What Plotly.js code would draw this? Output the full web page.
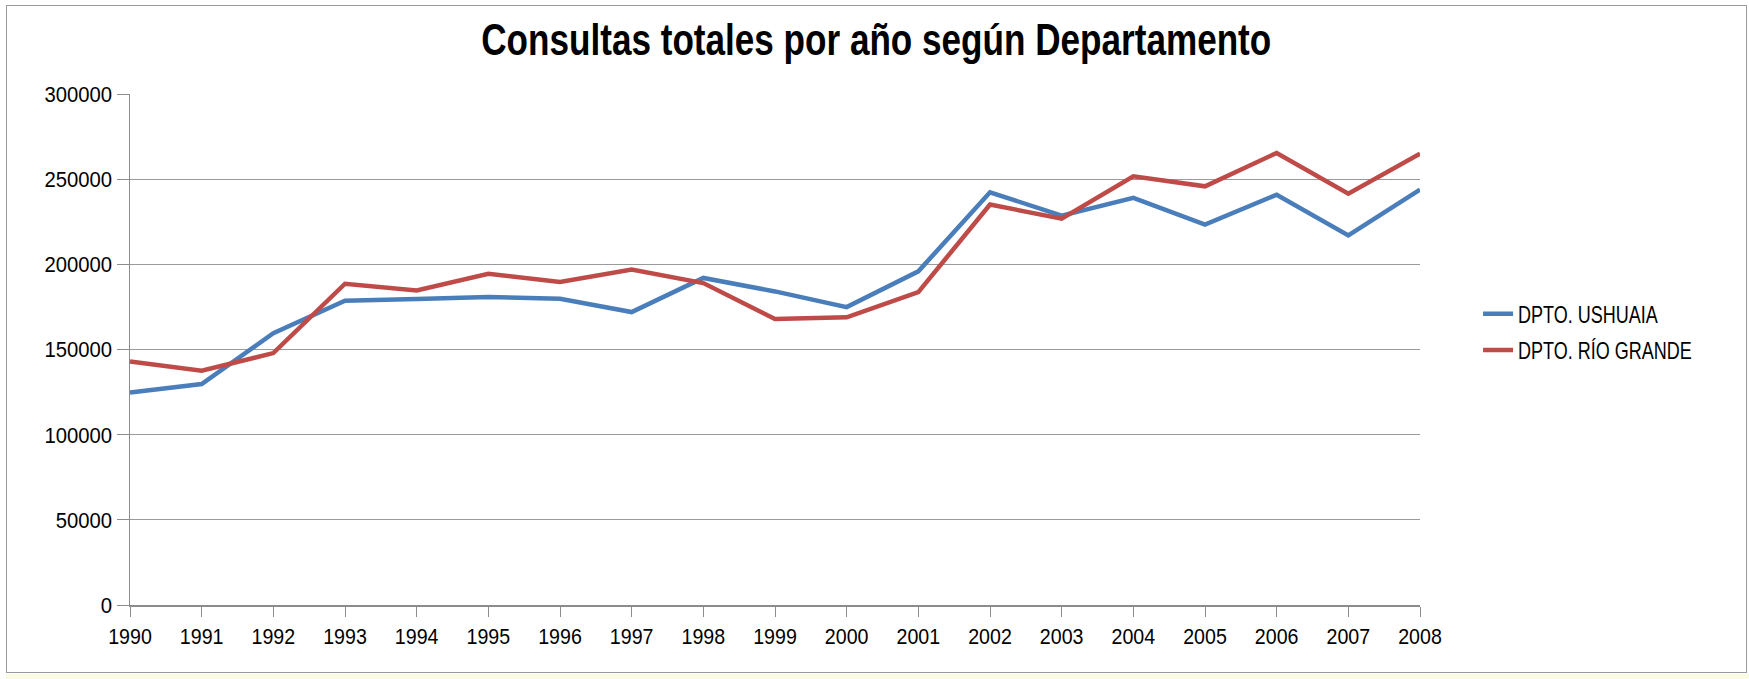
<!DOCTYPE html>
<html>
<head>
<meta charset="utf-8">
<script src="https://cdn.plot.ly/plotly-3.0.1.min.js"></script>
<style>
  html, body { margin: 0; padding: 0; background: #ffffff; width: 1749px; height: 679px; overflow: hidden; }
  #chart { position: absolute; left: 0; top: 0; width: 1749px; height: 679px; }
  #frame { position: absolute; left: 6px; top: 5px; width: 1739px; height: 666px; border: 1.5px solid #9a9a9a; pointer-events: none; }
  #strip { position: absolute; left: 6px; top: 674px; width: 1743px; height: 5px; background: #fbfbe2; }
</style>
</head>
<body>
<div id="chart"></div>
<div id="frame"></div>
<div id="strip"></div>
<script>
const years = [1990, 1991, 1992, 1993, 1994, 1995, 1996, 1997, 1998, 1999,
               2000, 2001, 2002, 2003, 2004, 2005, 2006, 2007, 2008];
const ushuaia = [124800, 129700, 159600, 178600, 179600, 180800, 179800, 172000, 192000, 184100,
                 174900, 195900, 242300, 228600, 239000, 223300, 240900, 217000, 243900];
const rioGrande = [143000, 137500, 147900, 188600, 184700, 194500, 189600, 196900, 189000, 167900,
                   168900, 183700, 235100, 226800, 251700, 245800, 265400, 241500, 265000];
const seriesNames = ["DPTO. USHUAIA", "DPTO. RÍO GRANDE"];
const yTicks = [0, 50000, 100000, 150000, 200000, 250000, 300000];
const titleText = "Consultas totales por año según Departamento";

const FONT = "'Liberation Sans', Arial, sans-serif";

const traces = [
  { x: years, y: ushuaia, name: seriesNames[0], type: "scatter", mode: "lines",
    legendgroup: "a", line: { color: "#4a7ebb", width: 4.5 } },
  { x: years, y: rioGrande, name: seriesNames[1], type: "scatter", mode: "lines",
    legendgroup: "b", line: { color: "#be4b48", width: 4.5 } }
];

const layout = {
  width: 1749, height: 679,
  paper_bgcolor: "rgba(0,0,0,0)", plot_bgcolor: "#ffffff",
  margin: { l: 129.5, r: 329, t: 94, b: 74, autoexpand: false },
  font: { family: FONT, color: "#000" },
  title: { text: titleText, x: 0.501, xref: "container", xanchor: "center",
           y: 0.941, yref: "container", yanchor: "middle",
           font: { family: FONT, size: 44, weight: 700, color: "#000" } },
  xaxis: {
    type: "linear", range: [1990, 2008], tickvals: years, ticktext: years.map(String),
    showgrid: false, zeroline: false, showline: true, linecolor: "#8c8c8c", linewidth: 1.5,
    ticks: "outside", ticklen: 10, tickcolor: "#8c8c8c", tickwidth: 1,
    tickfont: { family: FONT, size: 22.5, color: "#000" }, fixedrange: true, automargin: false
  },
  yaxis: {
    range: [0, 300000], tickvals: yTicks, ticktext: yTicks.map(String),
    showgrid: true, gridcolor: "#9a9a9a", gridwidth: 1.2, zeroline: false,
    showline: true, linecolor: "#8c8c8c", linewidth: 1.5,
    ticks: "outside", ticklen: 12, tickcolor: "#8c8c8c", tickwidth: 1,
    tickfont: { family: FONT, size: 22.5, color: "#000" }, fixedrange: true, automargin: false
  },
  showlegend: true,
  legend: { x: 1.045, xanchor: "left", y: 0.534, yanchor: "middle",
            traceorder: "grouped", tracegroupgap: 2,
            font: { family: FONT, size: 24, color: "#000" },
            itemwidth: 30, bgcolor: "rgba(0,0,0,0)" }
};

function condense(sel, factor, target) {
  document.querySelectorAll(sel).forEach(function (t) {
    if (t.getAttribute("textLength")) return;
    const len = t.getComputedTextLength();
    if (!len) return;
    const w = target ? target : len * factor;
    t.setAttribute("textLength", w.toFixed(1));
    t.setAttribute("lengthAdjust", "spacingAndGlyphs");
  });
}

Plotly.newPlot("chart", traces, layout, { staticPlot: true, displayModeBar: false }).then(function () {
  condense(".xtick text", 0.87);
  condense(".ytick text", 0.9);
  condense(".legendtext", 0.75);
  condense(".gtitle", 1, 790);
});
</script>
</body>
</html>
